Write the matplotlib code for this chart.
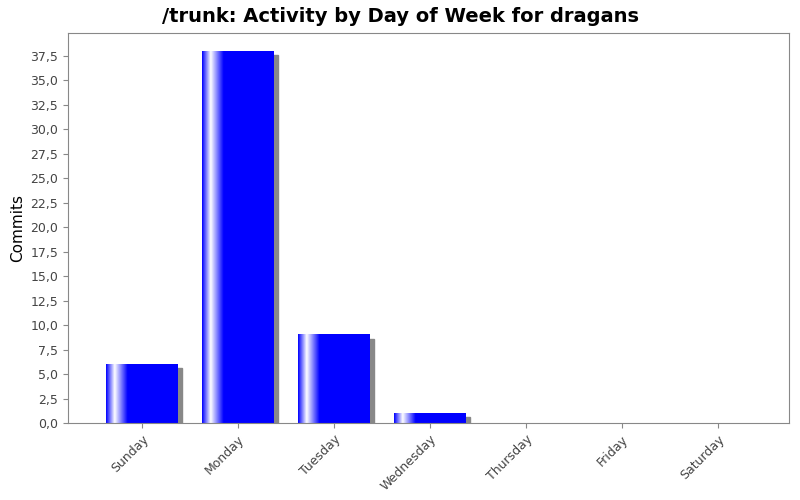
import numpy as np
import matplotlib.pyplot as plt
from matplotlib.colors import LinearSegmentedColormap
from matplotlib.ticker import FuncFormatter, MultipleLocator

days = ["Sunday", "Monday", "Tuesday", "Wednesday", "Thursday", "Friday", "Saturday"]
commits = [6, 38, 9, 1, 0, 0, 0]

fig = plt.figure(figsize=(8, 5), dpi=100)
ax = fig.add_axes([0.085, 0.154, 0.901, 0.78])
ax.set_xlim(-0.77, len(days) - 1 + 0.74)
ax.set_ylim(0, 39.85)

# horizontal gradient like JFreeChart: blue -> white -> blue
cmap = LinearSegmentedColormap.from_list(
    "bar", [(0, "#0000ff"), (0.12, "#ffffff"), (0.3, "#0000ff"), (1, "#0000ff")])
grad = np.linspace(0, 1, 256).reshape(1, -1)
w = 0.75
dx, dy = 4 / 96, 4 / 9.787
for i, v in enumerate(commits):
    if v <= 0:
        continue
    x0 = i - w / 2
    ax.add_patch(plt.Rectangle((x0 + dx, 0), w, v - dy, color="#888888", zorder=1))
    ax.imshow(grad, cmap=cmap, aspect="auto", extent=(x0, x0 + w, 0, v), zorder=2)

ax.set_xticks(range(len(days)))
ax.set_xticklabels(days, rotation=45, ha="right", rotation_mode="anchor", fontsize=9, color="#444444")
ax.yaxis.set_major_locator(MultipleLocator(2.5))
ax.yaxis.set_major_formatter(FuncFormatter(lambda v, p: f"{v:.1f}".replace(".", ",")))
ax.tick_params(axis="y", labelsize=9, colors="#444444")
ax.tick_params(axis="both", color="#888888")
for s in ax.spines.values():
    s.set_color("#888888")
ax.set_ylabel("Commits", fontsize=11)
fig.suptitle("/trunk: Activity by Day of Week for dragans", fontsize=14, fontweight="bold", y=0.985)
fig.savefig("out.png")
